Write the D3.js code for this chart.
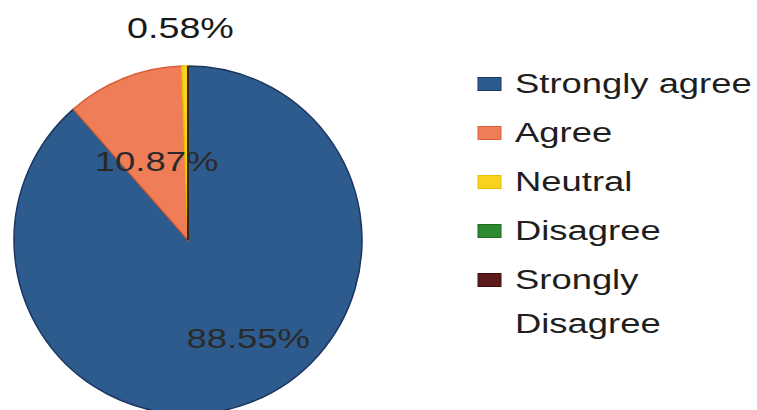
<!DOCTYPE html>
<html><head><meta charset="utf-8">
<script src="https://cdn.jsdelivr.net/npm/d3@7"></script>
<style>body{margin:0;background:#fff;} text{font-family:"Liberation Sans",Arial,sans-serif;}</style>
</head><body>
<svg id="c" width="757" height="410"></svg>
<script>
const categories = ["Strongly agree","Agree","Neutral","Disagree","Srongly Disagree"];
const values = [88.55, 10.87, 0.58, 0, 0];
const labels = ["88.55%","10.87%","0.58%","",""];
const colors = ["#2e5b8d","#ef7d58","#f7d21e","#2e8a32","#5c1c1c"];
const strokes = ["#1a3560","#d8603a","#e8c000","#1d6a20","#3a0e0e"];

const svg = d3.select("#c");
const cx = 188, cy = 240, R = 174;
const labelR = [0.66, 0.49, 1.22, 0, 0];
const labelShift = [-11, 0, -1, 0, 0];
const sx = 1.3;

const pie = d3.pie().sort(null).value(d => d)(values);
const arc = d3.arc().innerRadius(0).outerRadius(R);
const g = svg.append("g").attr("transform", `translate(${cx},${cy})`);
g.selectAll("path").data(pie).join("path")
  .attr("d", arc)
  .attr("fill", (d,i) => colors[i])
  .attr("stroke", (d,i) => strokes[i])
  .attr("stroke-width", 1.5);

g.selectAll("text.lab").data(pie).join("text").attr("class","lab")
  .filter((d,i) => labels[i] !== "")
  .each(function(d){
    const i = d.index;
    const a = (d.startAngle + d.endAngle)/2 + labelShift[i]*Math.PI/180;
    const r = R*labelR[i];
    const x = Math.sin(a)*r, y = -Math.cos(a)*r;
    d3.select(this).attr("transform", `translate(${x},${y}) scale(${sx},1)`)
      .attr("text-anchor","middle").attr("dy","0.36em")
      .attr("font-size", i===2 ? 29 : 28)
      .attr("fill", i===2 ? "#1a1a1a" : "#2a2a2a")
      .text(labels[i]);
  });

// legend
const ly = d3.scaleBand().domain(categories).range([60, 305]).paddingInner(0);
const leg = svg.append("g");
categories.forEach((c,i) => {
  const y = ly(c) + ly.bandwidth()/2 - 1;
  leg.append("rect").attr("x", 478).attr("y", y-6).attr("width", 23).attr("height", 13)
    .attr("fill", colors[i]).attr("stroke", strokes[i]).attr("stroke-width", 1);
  const words = c === "Srongly Disagree" ? ["Srongly","Disagree"] : [c];
  words.forEach((w,j) => {
    leg.append("text").attr("transform", `translate(515,${y + 9 + j*44}) scale(${sx},1)`)
      .attr("font-size", 28).attr("fill","#1e1e1e").text(w);
  });
});
</script>
</body></html>
